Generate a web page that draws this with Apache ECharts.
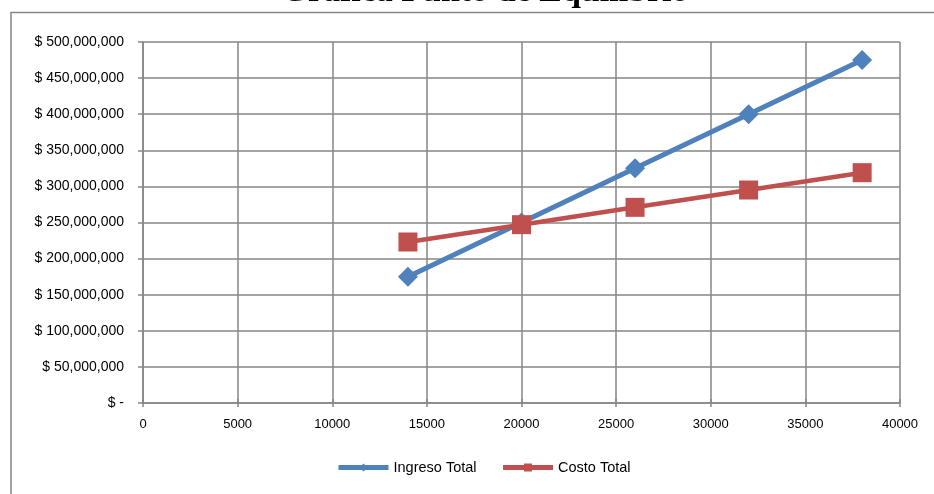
<!DOCTYPE html>
<html>
<head>
<meta charset="utf-8">
<script src="https://cdn.jsdelivr.net/npm/echarts@6/dist/echarts.min.js"></script>
<style>
  html, body { margin: 0; padding: 0; background: #fff; }
  #chart { width: 934px; height: 494px; }
</style>
</head>
<body>
<div id="chart"></div>
<script>
// Units sold (x) and totals in pesos (y)
const unidades = [14000, 20000, 26000, 32000, 38000];
const ingresoTotal = [175000000, 250000000, 325000000, 400000000, 475000000];
const costoTotal = [223000000, 247000000, 271000000, 295000000, 319000000];
const tituloGrafica = 'Gráfica Punto de Equilibrio';
const nombreIngreso = 'Ingreso Total';
const nombreCosto = 'Costo Total';

const gris = '#868686';
const fuente = 'Liberation Sans';

function formatoPesos(v) {
  if (v === 0) return '$ -';
  return '$ ' + v.toString().replace(/\B(?=(\d{3})+(?!\d))/g, ',');
}

const chart = echarts.init(document.getElementById('chart'), null, { renderer: 'canvas' });

chart.setOption({
  animation: false,
  backgroundColor: '#fff',
  graphic: [
    {
      type: 'rect',
      shape: { x: 11, y: 12.5, width: 1000, height: 600 },
      style: { fill: 'none', stroke: gris, lineWidth: 1.5 },
      z: 0
    },
    {
      type: 'text',
      x: 485,
      y: -8,
      style: {
        text: tituloGrafica,
        fill: '#000',
        font: 'bold 34px "Liberation Serif"',
        align: 'center',
        verticalAlign: 'middle'
      }
    }
  ],
  grid: { left: 143, right: 34, top: 42, bottom: 91, containLabel: false },
  legend: {
    bottom: 14,
    left: 331,
    itemWidth: 50,
    itemHeight: 10,
    itemGap: 24,
    lineStyle: { width: 5 },
    textStyle: { fontFamily: fuente, fontSize: 14.5, color: '#000' },
    data: [nombreIngreso, nombreCosto]
  },
  xAxis: [
    {
      type: 'value',
      min: 0,
      max: 40000,
      interval: 5000,
      axisLine: { show: true, lineStyle: { color: gris, width: 1.5 } },
      axisTick: { show: true, length: 4, lineStyle: { color: gris, width: 1.5 } },
      axisLabel: { margin: 15, fontFamily: fuente, fontSize: 13, color: '#000', formatter: v => String(v) },
      splitLine: { show: true, lineStyle: { color: gris, width: 1.5 } }
    },
    {
      type: 'value',
      position: 'bottom',
      min: 0,
      max: 40000,
      interval: 5000,
      axisLine: { show: false },
      axisTick: { show: true, inside: true, length: 4, lineStyle: { color: gris, width: 1.5 } },
      axisLabel: { show: false },
      splitLine: { show: false }
    }
  ],
  yAxis: {
    type: 'value',
    min: 0,
    max: 500000000,
    interval: 50000000,
    axisLine: { show: true, lineStyle: { color: gris, width: 1.5 } },
    axisTick: { show: true, length: 5, lineStyle: { color: gris, width: 1.5 } },
    axisLabel: { margin: 19, fontFamily: fuente, fontSize: 14, color: '#000', formatter: formatoPesos },
    splitLine: { show: true, lineStyle: { color: gris, width: 1.5 } }
  },
  series: [
    {
      name: nombreIngreso,
      type: 'line',
      data: unidades.map((u, i) => [u, ingresoTotal[i]]),
      symbol: 'diamond',
      symbolSize: 20,
      itemStyle: { color: '#4F81BD' },
      lineStyle: { color: '#4F81BD', width: 5 },
      z: 3
    },
    {
      name: nombreCosto,
      type: 'line',
      data: unidades.map((u, i) => [u, costoTotal[i]]),
      symbol: 'rect',
      symbolSize: 19,
      itemStyle: { color: '#C0504D' },
      lineStyle: { color: '#C0504D', width: 4.5 },
      z: 4
    }
  ]
});
</script>
</body>
</html>
